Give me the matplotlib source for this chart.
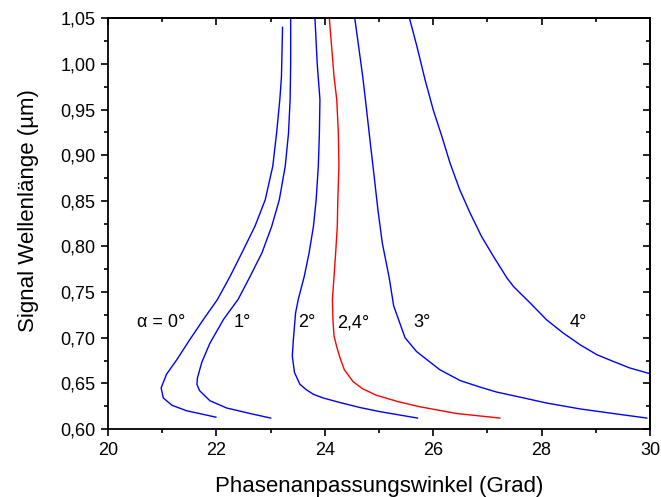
import matplotlib
matplotlib.use('Agg')
import matplotlib.pyplot as plt
from matplotlib.ticker import MultipleLocator, FuncFormatter

plt.rcParams['font.family'] = ['Liberation Sans', 'DejaVu Sans']

# curves: phase matching angle (deg) vs signal wavelength (um)
angle_0 = [23.22, 23.20, 23.17, 23.11, 23.04, 22.90, 22.71, 22.47, 22.25, 22.02,
           21.76, 21.51, 21.27, 21.08, 20.98, 21.02, 21.18, 21.45, 21.99]
wl_0 = [1.040, 0.986, 0.961, 0.924, 0.888, 0.851, 0.822, 0.793, 0.767, 0.742,
        0.720, 0.698, 0.676, 0.660, 0.645, 0.634, 0.626, 0.620, 0.613]

angle_1 = [23.37, 23.37, 23.36, 23.33, 23.27, 23.16, 23.02, 22.84, 22.62, 22.40,
           22.13, 21.88, 21.73, 21.65, 21.64, 21.69, 21.88, 22.19, 22.62, 23.00]
wl_1 = [1.060, 1.000, 0.961, 0.924, 0.888, 0.851, 0.822, 0.793, 0.767, 0.742,
        0.720, 0.694, 0.673, 0.656, 0.649, 0.642, 0.631, 0.623, 0.617, 0.612]

angle_2 = [23.81, 23.86, 23.91, 23.90, 23.88, 23.84, 23.79, 23.71, 23.62, 23.51,
           23.46, 23.42, 23.40, 23.44, 23.54, 23.66, 23.79, 23.97, 24.28, 24.65,
           25.02, 25.71]
wl_2 = [1.060, 1.000, 0.961, 0.924, 0.888, 0.851, 0.822, 0.793, 0.767, 0.742,
        0.727, 0.698, 0.680, 0.662, 0.649, 0.643, 0.638, 0.634, 0.629, 0.6235,
        0.619, 0.612]

angle_24 = [24.07, 24.17, 24.22, 24.25, 24.26, 24.24, 24.23, 24.20, 24.17, 24.14,
            24.15, 24.17, 24.22, 24.28, 24.36, 24.52, 24.70, 24.95, 25.35, 25.75,
            26.43, 27.23]
wl_24 = [1.060, 0.986, 0.961, 0.924, 0.888, 0.851, 0.822, 0.793, 0.767, 0.742,
         0.720, 0.702, 0.690, 0.678, 0.665, 0.652, 0.644, 0.637, 0.630, 0.6244,
         0.617, 0.612]

angle_3 = [24.53, 24.70, 24.77, 24.84, 24.91, 24.98, 25.06, 25.19, 25.27, 25.48,
           25.69, 26.12, 26.50, 26.86, 27.17, 27.48, 28.09, 28.71, 29.32, 29.94]
wl_3 = [1.060, 0.986, 0.950, 0.913, 0.877, 0.840, 0.804, 0.765, 0.735, 0.700,
        0.685, 0.665, 0.653, 0.646, 0.6405, 0.6365, 0.6285, 0.622, 0.617, 0.612]

angle_4 = [25.54, 25.70, 25.85, 26.00, 26.16, 26.31, 26.49, 26.68, 26.89, 27.11,
           27.36, 27.48, 27.79, 28.09, 28.40, 28.71, 29.02, 29.32, 29.63, 30.00]
wl_4 = [1.055, 1.019, 0.9825, 0.9497, 0.9205, 0.8914, 0.8621, 0.8367, 0.8111, 0.7892,
        0.7655, 0.7562, 0.738, 0.7197, 0.7051, 0.6923, 0.6814, 0.6741, 0.6668, 0.6606]

curves = [
    (angle_0, wl_0, 'blue'),
    (angle_1, wl_1, 'blue'),
    (angle_2, wl_2, 'blue'),
    (angle_24, wl_24, 'red'),
    (angle_3, wl_3, 'blue'),
    (angle_4, wl_4, 'blue'),
]

labels = ['\u03b1 = 0\u00b0', '1\u00b0', '2\u00b0', '2,4\u00b0', '3\u00b0', '4\u00b0']
label_x = [20.99, 22.48, 23.66, 24.53, 25.79, 28.68]
label_y = 0.7166

fig = plt.figure(figsize=(6.61, 4.97), dpi=100)
ax = fig.add_axes([0.1634, 0.1368, 0.82, 0.8264])

for x, y, c in curves:
    ax.plot(x, y, color=c, linewidth=1.0)

for txt, lx in zip(labels, label_x):
    ax.text(lx, label_y, txt, fontsize=13, ha='center', va='center')

ax.set_xlim(20, 30)
ax.set_ylim(0.60, 1.05)

comma = FuncFormatter(lambda v, p: f'{v:.2f}'.replace('.', ','))
ax.xaxis.set_major_locator(MultipleLocator(2))
ax.xaxis.set_minor_locator(MultipleLocator(1))
ax.yaxis.set_major_locator(MultipleLocator(0.05))
ax.yaxis.set_minor_locator(MultipleLocator(0.025))
ax.yaxis.set_major_formatter(comma)

ax.tick_params(which='both', direction='out', width=1.2, labelsize=13, pad=4)
ax.tick_params(which='major', length=5)
ax.tick_params(which='minor', length=3)
for s in ax.spines.values():
    s.set_linewidth(1.3)

# mirrored ticks on top and right, pointing inwards
top = ax.secondary_xaxis('top')
top.xaxis.set_major_locator(MultipleLocator(2))
top.xaxis.set_minor_locator(MultipleLocator(1))
top.tick_params(which='both', direction='in', width=1.2, labeltop=False)
top.tick_params(which='major', length=5)
top.tick_params(which='minor', length=3)
top.spines['top'].set_linewidth(1.3)

right = ax.secondary_yaxis('right')
right.yaxis.set_major_locator(MultipleLocator(0.05))
right.yaxis.set_minor_locator(MultipleLocator(0.025))
right.tick_params(which='both', direction='in', width=1.2, labelright=False)
right.tick_params(which='major', length=5)
right.tick_params(which='minor', length=3)
right.spines['right'].set_linewidth(1.3)

ax.set_xlabel('Phasenanpassungswinkel (Grad)', fontsize=16)
ax.set_ylabel('Signal Wellenl\u00e4nge (\u00b5m)', fontsize=16)
ax.xaxis.set_label_coords(0.5, -0.114)
ax.yaxis.set_label_coords(-0.128, 0.532)

fig.savefig('out.png', dpi=100)
